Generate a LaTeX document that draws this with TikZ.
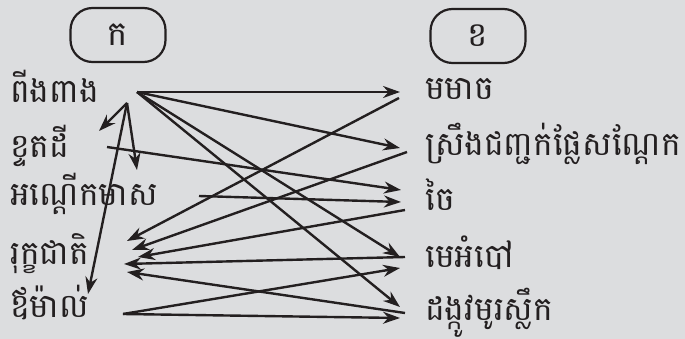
\documentclass[tikz,border=0pt]{standalone}
\usepackage{fontspec}
\newfontfamily\khmer[Script=Khmer]{Battambang}
\usetikzlibrary{arrows.meta}
\definecolor{bg}{HTML}{DCDDDF}
\definecolor{ink}{HTML}{231F20}
\begin{document}
\begin{tikzpicture}[x=1pt,y=-1pt,
  lbl/.style={anchor=base west,inner sep=0pt,font=\khmer\fontsize{33}{35}\selectfont,text=ink},
  hdr/.style={draw=ink,line width=2.2pt,rounded corners=22pt,minimum width=95pt,minimum height=54pt,inner sep=0pt,font=\khmer\fontsize{34}{36}\selectfont,text=ink},
  arr/.style={draw=ink,line width=2.4pt,-{Stealth[length=17pt,width=12pt]}}]
\fill[bg] (0,0) rectangle (685,339);
\useasboundingbox (0,0) rectangle (685,339);
\node[hdr] (hk) at (118,35) {ក};
\node[hdr] (hkh) at (478,36) {ខ};
\node[lbl] (l1) at (10,103) {ពីងពាង};
\node[lbl] (l2) at (10,158) {ខ្ទតដី};
\node[lbl] (l3) at (10,205) {អណ្តើកមាស};
\node[lbl] (l4) at (10,264) {រុក្ខជាតិ};
\node[lbl] (l5) at (10,317) {ឪម៉ាល់};
\node[lbl] (r1) at (425,100) {មមាច};
\node[lbl] (r2) at (425,156) {ស្រឹងជញ្ជក់ផ្លែសណ្តែក};
\node[lbl] (r3) at (425,211) {ចៃ};
\node[lbl] (r4) at (425,267) {មេអំបៅ};
\node[lbl] (r5) at (425,320) {ដង្កូវមូរស្លឹក};
% attach points
\coordinate (a1) at (137,92);
\coordinate (a1b) at (127,103);
\coordinate (a2) at (107,147);
\coordinate (a3) at (199,196);
\coordinate (a5) at (123,314);
\coordinate (t2) at (99,131);
\coordinate (t3) at (137,170);
\coordinate (t5) at (88,294);
\coordinate (t4a) at (127,241);
\coordinate (t4b) at (132,250);
\coordinate (t4c) at (138,257);
\coordinate (t4d) at (124,264);
\coordinate (t4e) at (127,272);
\coordinate (e1) at (400,92);
\coordinate (s1) at (399,98);
\coordinate (e2) at (400,148);
\coordinate (s2) at (407,152);
\coordinate (e3a) at (401,190);
\coordinate (e3b) at (401,202);
\coordinate (s3) at (405,210);
\coordinate (e4) at (400,257);
\coordinate (s4) at (405,257);
\coordinate (e4b) at (400,268);
\coordinate (e5) at (400,307);
\coordinate (s5) at (405,313);
\coordinate (e5b) at (400,318);
% arrows from ពីងពាង
\draw[arr] (a1) -- (e1);
\draw[arr] (a1) -- (e2);
\draw[arr] (a1) -- (e4);
\draw[arr] (a1) -- (e5);
\draw[arr] (a1b) -- (t2);
\draw[arr] (a1b) -- (t3);
\draw[arr] (a1b) -- (t5);
% into ចៃ
\draw[arr] (a2) -- (e3a);
\draw[arr] (a3) -- (e3b);
% into រុក្ខជាតិ
\draw[arr] (s1) -- (t4a);
\draw[arr] (s2) -- (t4b);
\draw[arr] (s3) -- (t4c);
\draw[arr] (s4) -- (t4d);
\draw[arr] (s5) -- (t4e);
% from ឪម៉ាល់
\draw[arr] (a5) -- (e4b);
\draw[arr] (a5) -- (e5b);
\end{tikzpicture}
\end{document}
